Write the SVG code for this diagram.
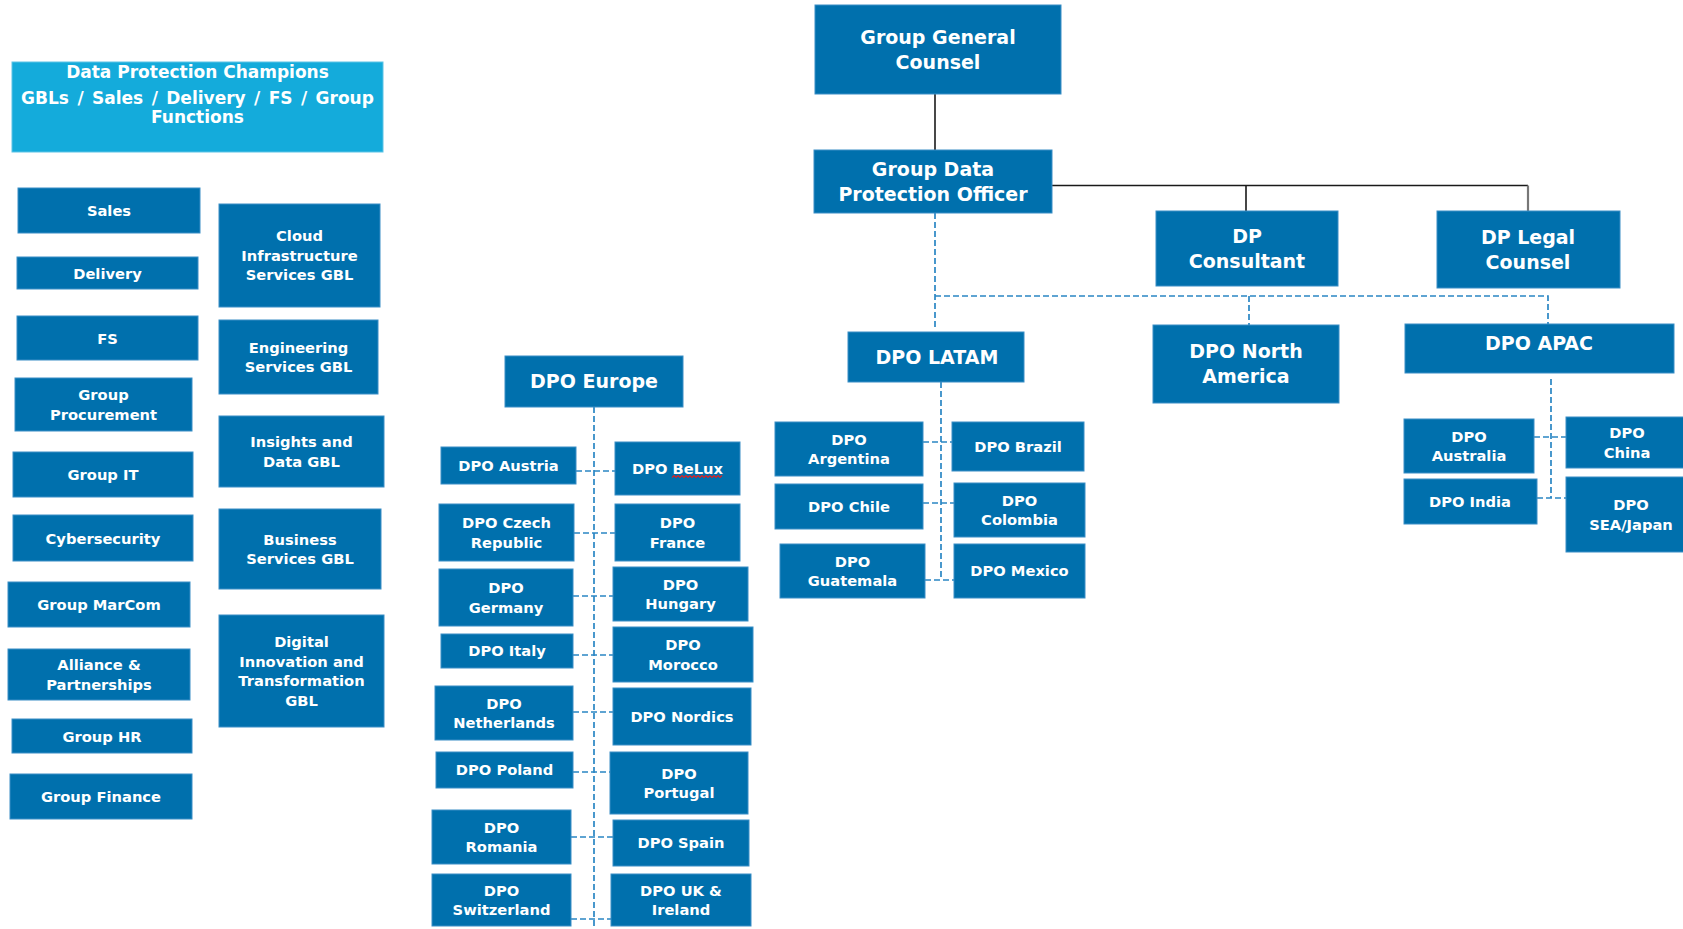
<svg xmlns="http://www.w3.org/2000/svg" width="1683" height="929" viewBox="0 0 1683 929">
<style>
.n{fill:#0070ad;stroke:#3a8ec6;stroke-width:1}
.c{fill:#14abdb;stroke:#5cc3e6;stroke-width:1}
text{font-family:"DejaVu Sans",Verdana,sans-serif;font-weight:bold;fill:#fff;text-anchor:middle}
.s{font-size:14.7px}
.l{font-size:19px}
.h{font-size:17px}
.d{stroke:#2a86c4;stroke-width:1.7;stroke-dasharray:6 3;fill:none}
.k{stroke:#1a1a1a;stroke-width:1.6;fill:none}
</style>
<rect width="1683" height="929" fill="#fff"/>
<g id="connectors">
<path class="k" d="M935 94V150"/>
<path class="k" d="M1052 185.5H1528M1246 185.5V211"/>
<path d="M1528 185.5V211" stroke="#777" stroke-width="2.2" fill="none"/>
<path class="d" d="M935 213V327M935 296H1548V324M1249 296V325"/>
<path class="d" d="M941 382V580M923 442H952M923 503H954M925 580H954"/>
<path class="d" d="M594 407V929M576 471H615M574 533H615M573 596H613M573 655H613M573 712H613M573 772H610M571 837H613M571 919H611"/>
<path class="d" d="M1551 379V498M1534 437H1566M1537 498H1566"/>
</g>
<g id="champions"><rect class="c" x="12" y="62" width="371" height="90"/>
<text class="h" x="197.5" y="78">Data Protection Champions</text>
<text class="h" x="197.5" y="104" word-spacing="2.5">GBLs / Sales / Delivery / FS / Group</text>
<text class="h" x="197.5" y="123">Functions</text></g>
<g id="sales"><rect class="n" x="18" y="188" width="182" height="45"/><text class="s" x="109" y="216">Sales</text></g>
<g id="delivery"><rect class="n" x="17" y="257" width="181" height="32"/><text class="s" x="107.5" y="278.5">Delivery</text></g>
<g id="fs"><rect class="n" x="17" y="316" width="181" height="44"/><text class="s" x="107.5" y="343.5">FS</text></g>
<g id="procurement"><rect class="n" x="15" y="378" width="177" height="53"/><text class="s" x="103.5" y="400">Group</text><text class="s" x="103.5" y="419.5">Procurement</text></g>
<g id="groupit"><rect class="n" x="13" y="452" width="180" height="45"/><text class="s" x="103" y="480">Group IT</text></g>
<g id="cyber"><rect class="n" x="13" y="515" width="180" height="46"/><text class="s" x="103" y="543.5">Cybersecurity</text></g>
<g id="marcom"><rect class="n" x="8" y="582" width="182" height="45"/><text class="s" x="99" y="610">Group MarCom</text></g>
<g id="alliance"><rect class="n" x="8" y="649" width="182" height="51"/><text class="s" x="99" y="670">Alliance &amp;</text><text class="s" x="99" y="689.5">Partnerships</text></g>
<g id="hr"><rect class="n" x="12" y="719" width="180" height="34"/><text class="s" x="102" y="741.5">Group HR</text></g>
<g id="finance"><rect class="n" x="10" y="774" width="182" height="45"/><text class="s" x="101" y="802">Group Finance</text></g>
<g id="cloud"><rect class="n" x="219" y="204" width="161" height="103"/><text class="s" x="299.5" y="241.3">Cloud</text><text class="s" x="299.5" y="260.8">Infrastructure</text><text class="s" x="299.5" y="280.3">Services GBL</text></g>
<g id="engineering"><rect class="n" x="219" y="320" width="159" height="74"/><text class="s" x="298.5" y="352.5">Engineering</text><text class="s" x="298.5" y="372">Services GBL</text></g>
<g id="insights"><rect class="n" x="219" y="416" width="165" height="71"/><text class="s" x="301.5" y="447">Insights  and</text><text class="s" x="301.5" y="466.5">Data GBL</text></g>
<g id="business"><rect class="n" x="219" y="509" width="162" height="80"/><text class="s" x="300" y="544.5">Business</text><text class="s" x="300" y="564">Services GBL</text></g>
<g id="digital"><rect class="n" x="219" y="615" width="165" height="112"/><text class="s" x="301.5" y="647">Digital</text><text class="s" x="301.5" y="666.5">Innovation and</text><text class="s" x="301.5" y="686">Transformation</text><text class="s" x="301.5" y="705.5">GBL</text></g>
<g id="europe"><rect class="n" x="505" y="356" width="178" height="51"/><text class="l" x="594" y="388.3">DPO Europe</text></g>
<g id="austria"><rect class="n" x="441" y="447" width="135" height="37"/><text class="s" x="508.5" y="470.8">DPO Austria</text></g>
<g id="belux"><rect class="n" x="615" y="442" width="125" height="53"/><text class="s" x="677.5" y="473.8">DPO BeLux</text>
<path d="M672 477.5l2-2 2 2 2-2 2 2 2-2 2 2 2-2 2 2 2-2 2 2 2-2 2 2 2-2 2 2 2-2 2 2 2-2 2 2 2-2 2 2 2-2 2 2 2-2 2 2 2-2" stroke="#e02020" stroke-width="1.1" fill="none"/></g>
<g id="czech"><rect class="n" x="439" y="504" width="135" height="57"/><text class="s" x="506.5" y="528">DPO Czech</text><text class="s" x="506.5" y="547.5">Republic</text></g>
<g id="france"><rect class="n" x="615" y="504" width="125" height="57"/><text class="s" x="677.5" y="528">DPO</text><text class="s" x="677.5" y="547.5">France</text></g>
<g id="germany"><rect class="n" x="439" y="569" width="134" height="57"/><text class="s" x="506" y="593">DPO</text><text class="s" x="506" y="612.5">Germany</text></g>
<g id="hungary"><rect class="n" x="613" y="567" width="135" height="54"/><text class="s" x="680.5" y="589.5">DPO</text><text class="s" x="680.5" y="609">Hungary</text></g>
<g id="italy"><rect class="n" x="441" y="634" width="132" height="34"/><text class="s" x="507" y="656.3">DPO Italy</text></g>
<g id="morocco"><rect class="n" x="613" y="627" width="140" height="55"/><text class="s" x="683" y="650">DPO</text><text class="s" x="683" y="669.5">Morocco</text></g>
<g id="netherlands"><rect class="n" x="435" y="686" width="138" height="54"/><text class="s" x="504" y="708.5">DPO</text><text class="s" x="504" y="728">Netherlands</text></g>
<g id="nordics"><rect class="n" x="613" y="688" width="138" height="57"/><text class="s" x="682" y="721.8">DPO Nordics</text></g>
<g id="poland"><rect class="n" x="436" y="752" width="137" height="36"/><text class="s" x="504.5" y="775.3">DPO Poland</text></g>
<g id="portugal"><rect class="n" x="610" y="752" width="138" height="62"/><text class="s" x="679" y="778.5">DPO</text><text class="s" x="679" y="798">Portugal</text></g>
<g id="romania"><rect class="n" x="432" y="810" width="139" height="54"/><text class="s" x="501.5" y="832.5">DPO</text><text class="s" x="501.5" y="852">Romania</text></g>
<g id="spain"><rect class="n" x="613" y="820" width="136" height="46"/><text class="s" x="681" y="848.3">DPO Spain</text></g>
<g id="switzerland"><rect class="n" x="432" y="874" width="139" height="52"/><text class="s" x="501.5" y="895.5">DPO</text><text class="s" x="501.5" y="915">Switzerland</text></g>
<g id="uk"><rect class="n" x="611" y="874" width="140" height="52"/><text class="s" x="681" y="895.5">DPO UK &amp;</text><text class="s" x="681" y="915">Ireland</text></g>
<g id="latam"><rect class="n" x="848" y="332" width="176" height="50"/><text class="l" x="937" y="363.8">DPO LATAM</text></g>
<g id="argentina"><rect class="n" x="775" y="422" width="148" height="54"/><text class="s" x="849" y="444.5">DPO</text><text class="s" x="849" y="464">Argentina</text></g>
<g id="brazil"><rect class="n" x="952" y="422" width="132" height="49"/><text class="s" x="1018" y="451.8">DPO Brazil</text></g>
<g id="chile"><rect class="n" x="775" y="484" width="148" height="45"/><text class="s" x="849" y="511.8">DPO Chile</text></g>
<g id="colombia"><rect class="n" x="954" y="483" width="131" height="54"/><text class="s" x="1019.5" y="505.5">DPO</text><text class="s" x="1019.5" y="525">Colombia</text></g>
<g id="guatemala"><rect class="n" x="780" y="544" width="145" height="54"/><text class="s" x="852.5" y="566.5">DPO</text><text class="s" x="852.5" y="586">Guatemala</text></g>
<g id="mexico"><rect class="n" x="954" y="544" width="131" height="54"/><text class="s" x="1019.5" y="576.3">DPO Mexico</text></g>
<g id="ggc"><rect class="n" x="815" y="5" width="246" height="89"/><text class="l" x="938" y="43.8">Group General</text><text class="l" x="938" y="68.8">Counsel</text></g>
<g id="gdpo"><rect class="n" x="814" y="150" width="238" height="63"/><text class="l" x="933" y="175.8">Group Data</text><text class="l" x="933" y="200.8">Protection Officer</text></g>
<g id="consultant"><rect class="n" x="1156" y="211" width="182" height="75"/><text class="l" x="1247" y="242.8">DP</text><text class="l" x="1247" y="267.8">Consultant</text></g>
<g id="legal"><rect class="n" x="1437" y="211" width="183" height="77"/><text class="l" x="1528" y="243.8">DP Legal</text><text class="l" x="1528" y="268.8">Counsel</text></g>
<g id="northamerica"><rect class="n" x="1153" y="325" width="186" height="78"/><text class="l" x="1246" y="358.3">DPO North</text><text class="l" x="1246" y="383.3">America</text></g>
<g id="apac"><rect class="n" x="1405" y="324" width="269" height="49"/><text class="l" x="1539" y="350">DPO APAC</text></g>
<g id="australia"><rect class="n" x="1404" y="419" width="130" height="54"/><text class="s" x="1469" y="441.5">DPO</text><text class="s" x="1469" y="461">Australia</text></g>
<g id="china"><rect class="n" x="1566" y="417" width="122" height="51"/><text class="s" x="1627" y="438">DPO</text><text class="s" x="1627" y="457.5">China</text></g>
<g id="india"><rect class="n" x="1404" y="479" width="133" height="45"/><text class="s" x="1470" y="506.8">DPO India</text></g>
<g id="seajapan"><rect class="n" x="1566" y="477" width="122" height="75"/><text class="s" x="1631" y="510">DPO</text><text class="s" x="1631" y="529.5">SEA/Japan</text></g>
</svg>
